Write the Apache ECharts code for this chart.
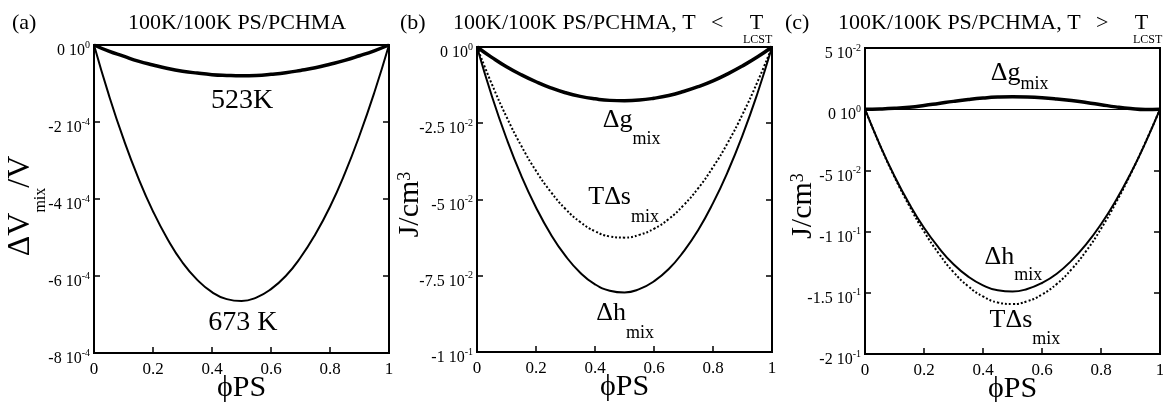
<!DOCTYPE html>
<html><head><meta charset="utf-8">
<script src="https://cdn.jsdelivr.net/npm/echarts@6/dist/echarts.min.js"></script>
<style>html,body{margin:0;padding:0;background:#fff}#c{width:1163px;height:402px}</style>
</head><body><div id="c"></div>
<script>
// ---------- data ----------
const phi = [0,0.05,0.1,0.15,0.2,0.25,0.3,0.35,0.4,0.45,0.5,0.55,0.6,0.65,0.7,0.75,0.8,0.85,0.9,0.95,1];
// panel (a): ΔVmix/V
const dvA523 = [0,-0.16e-4,-0.29e-4,-0.42e-4,-0.52e-4,-0.61e-4,-0.68e-4,-0.73e-4,-0.77e-4,-0.79e-4,-0.80e-4,-0.79e-4,-0.76e-4,-0.72e-4,-0.66e-4,-0.59e-4,-0.50e-4,-0.40e-4,-0.28e-4,-0.15e-4,0];
const dvA673 = [0,-1.29e-4,-2.44e-4,-3.45e-4,-4.32e-4,-5.05e-4,-5.65e-4,-6.10e-4,-6.42e-4,-6.60e-4,-6.65e-4,-6.56e-4,-6.34e-4,-6.00e-4,-5.52e-4,-4.92e-4,-4.20e-4,-3.34e-4,-2.35e-4,-1.24e-4,0];
// panel (b): T < T_LCST  (J/cm3)
const dgB  = [0,-0.0034,-0.0065,-0.0091,-0.0114,-0.0134,-0.0150,-0.0162,-0.0170,-0.0175,-0.0176,-0.0174,-0.0168,-0.0159,-0.0146,-0.0130,-0.0111,-0.0088,-0.0062,-0.0033,0];
const tdsB = [0,-0.0121,-0.0229,-0.0324,-0.0406,-0.0475,-0.0531,-0.0574,-0.0604,-0.0621,-0.0625,-0.0616,-0.0596,-0.0564,-0.0519,-0.0463,-0.0394,-0.0314,-0.0221,-0.0116,0];
const dhB  = [0,-0.0160,-0.0300,-0.0422,-0.0526,-0.0614,-0.0685,-0.0740,-0.0778,-0.0799,-0.0805,-0.0794,-0.0768,-0.0728,-0.0671,-0.0600,-0.0512,-0.0409,-0.0290,-0.0154,0];
// panel (c): T > T_LCST  (J/cm3)
const dgC  = [0,0.0002,0.0007,0.0016,0.0030,0.0047,0.0064,0.0079,0.0091,0.0099,0.0102,0.0100,0.0094,0.0084,0.0071,0.0055,0.0037,0.0019,0.0005,-0.0003,0];
const dhC  = [0,-0.0289,-0.0547,-0.0773,-0.0969,-0.1132,-0.1267,-0.1368,-0.1439,-0.1480,-0.1490,-0.1469,-0.1420,-0.1344,-0.1237,-0.1103,-0.0940,-0.0748,-0.0527,-0.0277,0];
const tdsC = [0,-0.0291,-0.0554,-0.0789,-0.0999,-0.1179,-0.1331,-0.1447,-0.1530,-0.1579,-0.1592,-0.1569,-0.1514,-0.1428,-0.1308,-0.1158,-0.0977,-0.0767,-0.0532,-0.0274,0];
const zeroLineC = [0];
// tick labels
const xTickLabels = ['0','0.2','0.4','0.6','0.8','1'];
const yMantA = ['0','-2','-4','-6','-8'];
const yExpA  = ['0','-4','-4','-4','-4'];
const yMantB = ['0','-2.5','-5','-7.5','-1'];
const yExpB  = ['0','-2','-2','-2','-1'];
const yMantC = ['5','0','-5','-1','-1.5','-2'];
const yExpC  = ['-2','0','-2','-1','-1','-1'];

// ---------- helpers ----------
const FONT = "'Liberation Serif','Times New Roman',serif";
const BLK = '#000';
function pts(a){ return phi.map((x,i)=>[x,a[i]]); }

function botX(g){
  return {type:'value',gridIndex:g,position:'bottom',min:0,max:1,interval:0.2,splitLine:{show:false},
    axisLine:{show:true,onZero:false,lineStyle:{color:BLK,width:2}},
    axisTick:{show:true,inside:true,length:6,lineStyle:{color:BLK,width:1.5}},
    axisLabel:{color:BLK,fontFamily:FONT,fontSize:17,margin:8,formatter:v=>xTickLabels[Math.round(v/0.2)]},
    name:'ϕPS',nameLocation:'middle',nameGap:20,nameMoveOverlap:false,
    nameTextStyle:{color:BLK,fontFamily:FONT,fontSize:30}};
}
function leftY(g,min,max,step,mant,exp,name,rich,gap,shift){
  return {type:'value',gridIndex:g,position:'left',min:min,max:max,interval:step,splitLine:{show:false},
    axisLine:{show:true,onZero:false,lineStyle:{color:BLK,width:2}},
    axisTick:{show:true,inside:true,length:6,lineStyle:{color:BLK,width:1.5}},
    axisLabel:{margin:4,color:BLK,fontFamily:FONT,fontSize:16,padding:[12,0,0,0],
      formatter:function(v){const i=Math.round((max-v)/step);return '{m|'+mant[i]+' 10}{e|'+exp[i]+'}';},
      rich:{m:{fontSize:16,fontFamily:FONT,color:BLK},e:{fontSize:10,fontFamily:FONT,color:BLK,padding:[0,0,12,0]}}},
    name:name,nameLocation:'middle',nameGap:gap,nameRotate:90,nameMoveOverlap:false,
    nameTextStyle:{color:BLK,fontFamily:FONT,padding:[0,shift,0,0],rich:rich}};
}
function rightY(g,min,max,step){
  return {type:'value',gridIndex:g,position:'right',min:min,max:max,interval:step,splitLine:{show:false},
    axisLine:{show:true,onZero:false,lineStyle:{color:BLK,width:2}},
    axisTick:{show:true,inside:true,length:6,lineStyle:{color:BLK,width:1.5}},
    axisLabel:{show:false}};
}
function lab(coord,main,sub,mainSize,subOff){
  const txt = sub ? '{m|'+main+'}{s|'+sub+'}' : '{m|'+main+'}';
  return {symbol:'circle',symbolSize:0,silent:true,
    label:{show:true,position:'inside',formatter:txt,
      rich:{m:{fontSize:mainSize,fontFamily:FONT,color:BLK},
            s:{fontSize:18,fontFamily:FONT,color:BLK,padding:[2*(subOff||0),0,0,0]}}},
    data:[{coord:coord}]};
}
function line(xi,yi,arr,width,type,mp,ml){
  const s={type:'line',xAxisIndex:xi,yAxisIndex:yi,data:pts(arr),showSymbol:false,smooth:true,
    lineStyle:{color:BLK,width:width,type:type},silent:true,z:3};
  if(mp) s.markPoint=mp;
  if(ml) s.markLine=ml;
  return s;
}
function title(left,top,tag,tagW,text){
  return {left:left,top:top,padding:0,text:'{p|'+tag+'}{t|'+text+'}',
    textStyle:{fontWeight:'normal',rich:{p:{fontSize:22,fontWeight:'normal',fontFamily:FONT,color:BLK,width:tagW},
      t:{fontSize:22,fontWeight:'normal',fontFamily:FONT,color:BLK}}}};
}
function subTitle(left,top,text){
  return {left:left,top:top,padding:0,text:text,
    textStyle:{fontSize:12,fontWeight:'normal',fontFamily:FONT,color:BLK}};
}

const yNameA = {m:{fontSize:32,fontFamily:FONT,color:BLK},s:{fontSize:16,fontFamily:FONT,color:BLK,padding:[40,0,0,0]}};
const yNameJ = {m:{fontSize:30,fontFamily:FONT,color:BLK},e:{fontSize:18,fontFamily:FONT,color:BLK,padding:[0,0,10,0]}};

const option = {
  animation:false,
  backgroundColor:'#fff',
  title:[
    title(12,12,'(a)',116,'100K/100K PS/PCHMA'),
    title(400,12,'(b)',53,'100K/100K PS/PCHMA, T\u2002\u2009<\u2003\u2009T'),
    subTitle(743,34,'LCST'),
    title(785,12,'(c)',53,'100K/100K PS/PCHMA, T\u2002\u2009>\u2003\u2009T'),
    subTitle(1133,34,'LCST')
  ],
  grid:[
    {left:94,top:45,width:295,height:308,show:true,borderColor:BLK,borderWidth:2,containLabel:false,outerBoundsMode:'none'},
    {left:477,top:47,width:295,height:305,show:true,borderColor:BLK,borderWidth:2,containLabel:false,outerBoundsMode:'none'},
    {left:865,top:48,width:295,height:306,show:true,borderColor:BLK,borderWidth:2,containLabel:false,outerBoundsMode:'none'}
  ],
  xAxis:[botX(0),botX(1),botX(2)],
  yAxis:[
    leftY(0,-8e-4,0,2e-4,yMantA,yExpA,'{m|ΔV}{s|mix}{m|/V}',yNameA,45,14),
    rightY(0,-8e-4,0,2e-4),
    leftY(1,-0.1,0,0.025,yMantB,yExpB,'{m|J/cm}{e|3}',yNameJ,52,10),
    rightY(1,-0.1,0,0.025),
    leftY(2,-0.2,0.05,0.05,yMantC,yExpC,'{m|J/cm}{e|3}',yNameJ,47,10),
    rightY(2,-0.2,0.05,0.05)
  ],
  series:[
    line(0,0,dvA523,3.5,'solid',lab([0.502,-1.455e-4],'523K',null,28,0)),
    line(0,0,dvA673,2,'solid',lab([0.505,-7.22e-4],'673 K',null,28,0)),
    line(1,2,dgB,3.5,'solid',lab([0.524,-0.0239],'Δg','mix',26,19)),
    line(1,2,tdsB,2,'dotted',lab([0.497,-0.0492],'TΔs','mix',26,20)),
    line(1,2,dhB,2,'solid',lab([0.502,-0.0872],'Δh','mix',26,20)),
    line(2,4,dgC,3.5,'solid',lab([0.524,0.0296],'Δg','mix',26,11),
      {symbol:'none',silent:true,label:{show:false},lineStyle:{color:BLK,width:1,type:'solid'},data:zeroLineC.map(v=>({yAxis:v}))}),
    line(2,4,dhC,2,'solid',lab([0.503,-0.1212],'Δh','mix',26,18)),
    line(2,4,tdsC,2,'dotted',lab([0.542,-0.1722],'TΔs','mix',26,19))
  ]
};
const chart = echarts.init(document.getElementById('c'),null,{renderer:'canvas'});
chart.setOption(option);
</script></body></html>
